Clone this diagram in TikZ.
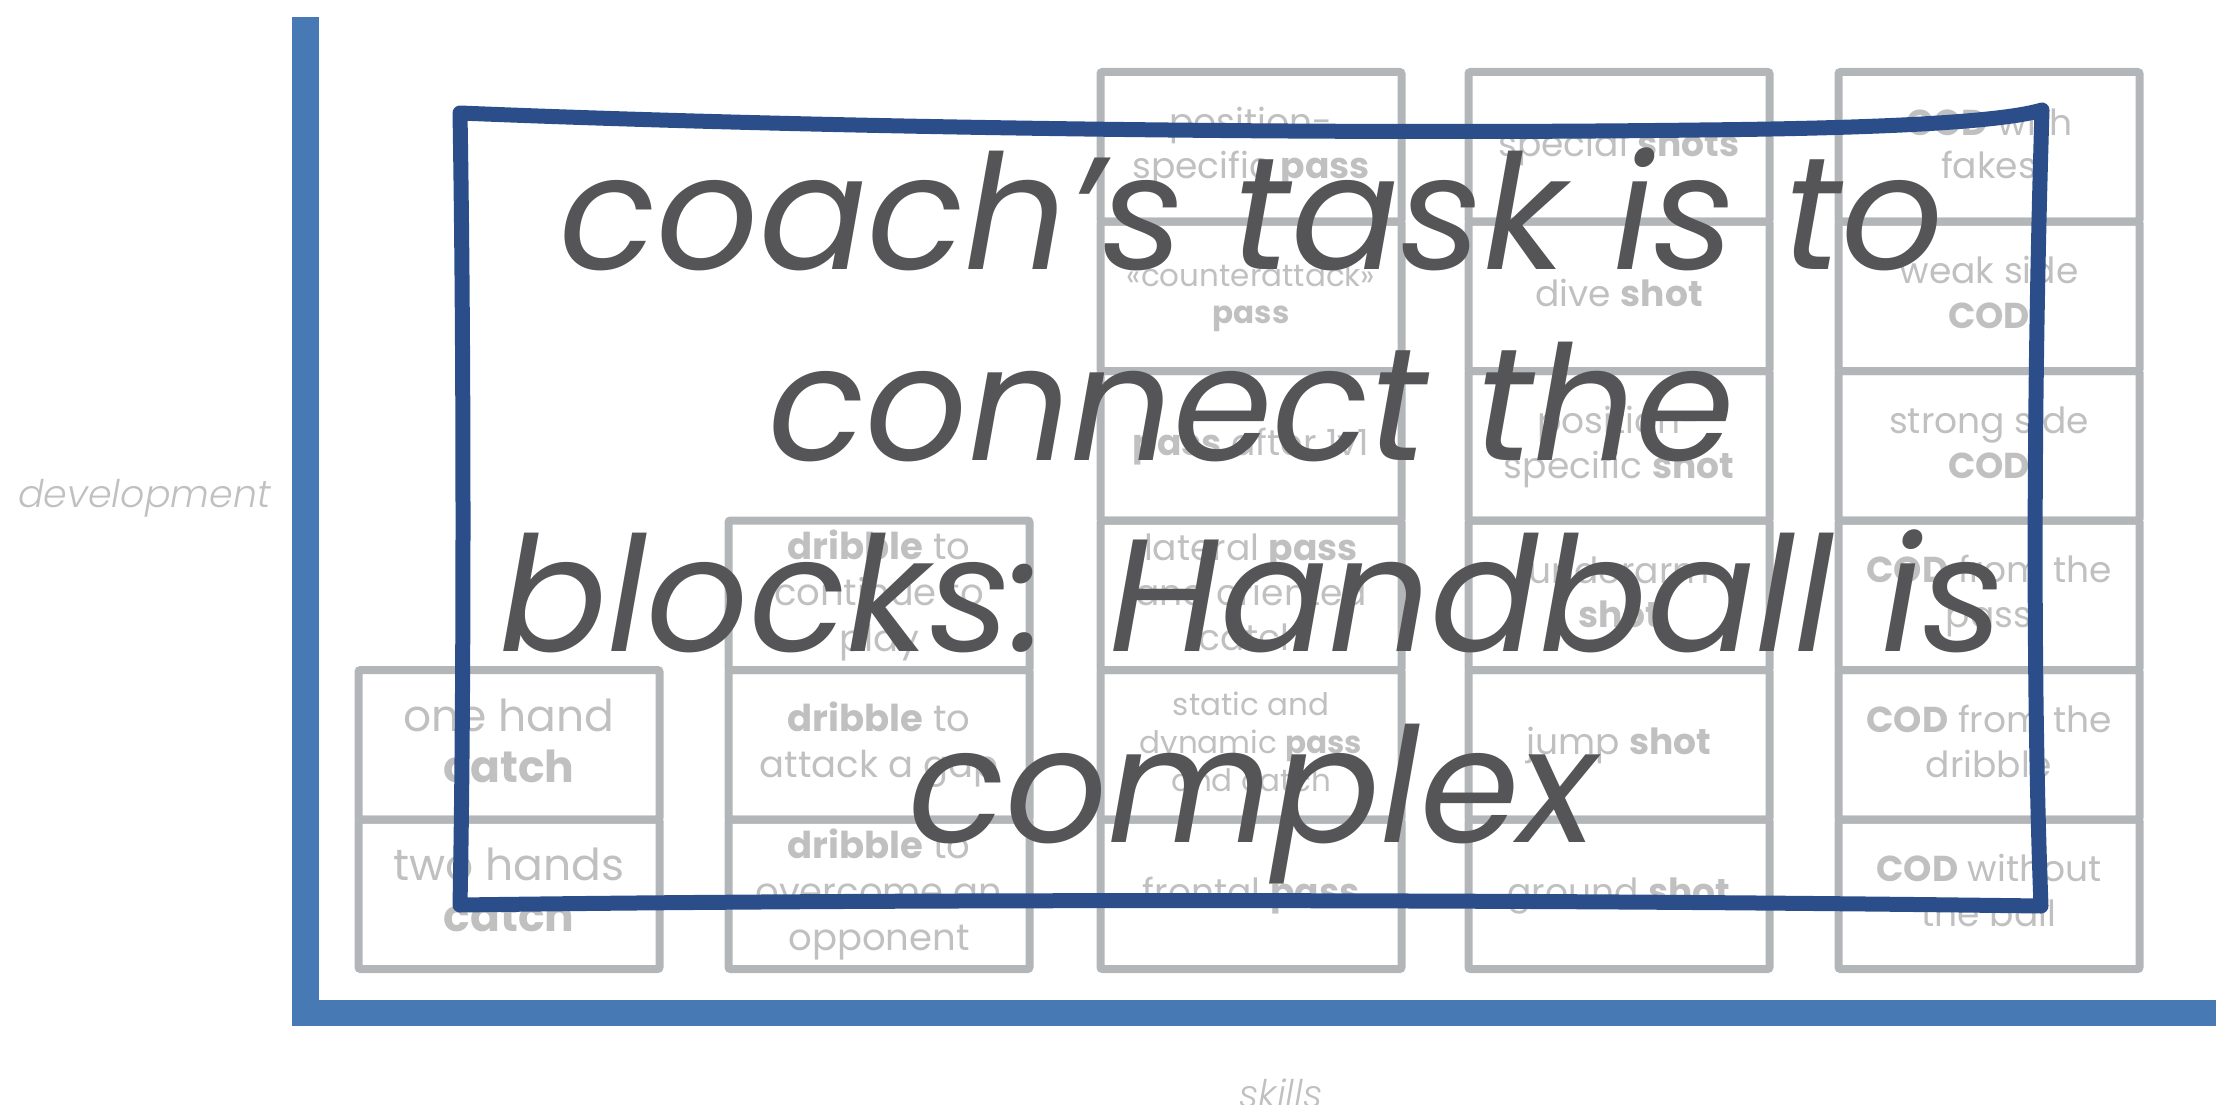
\documentclass[tikz,border=0pt]{standalone}
\usepackage{fontspec}
\setmainfont{Poppins}
\newfontface\devfont{Poppins Light Italic}
\definecolor{axisblue}{HTML}{477AB4}
\definecolor{frameblue}{HTML}{2B4E8A}
\definecolor{boxgray}{HTML}{B2B6B9}
\definecolor{txtgray}{HTML}{C0C0C0}
\definecolor{maingray}{HTML}{555557}
\newcommand\cs{\rule[\dimexpr 0.274em-0.5\baselineskip\relax]{0pt}{\baselineskip}}
\tikzset{
  cellbox/.style={draw=boxgray, line width=8pt, minimum width=301pt, minimum height=149.5pt,
    inner sep=0pt, rounded corners=2pt, text=txtgray, align=center},
  framestroke/.style={draw=frameblue, line width=15pt, line join=round, line cap=round},
  axislabel/.style={text=txtgray, inner sep=0pt, font=\fontsize{38}{45}\devfont},
}
\newcommand\cell[5]{\node[cellbox, font={\fontsize{#3}{#4}\selectfont}] (#1) at #2 {#5};}
\begin{document}
\begin{tikzpicture}[x=1pt, y=-1pt]
\useasboundingbox (0,0) rectangle (2216,1105);
% catch column
\cell{ca1}{(509,894.25)}{44}{51}{\cs two hands\\\cs\textbf{catch}}
\cell{ca2}{(509,744.75)}{44}{51}{\cs one hand\\\cs\textbf{catch}}
% dribble column
\cell{dr1}{(879,894.25)}{37}{46}{\cs\textbf{dribble} to\\\cs overcome an\\\cs opponent}
\cell{dr2}{(879,744.75)}{37}{46}{\cs\textbf{dribble} to\\\cs attack a gap}
\cell{dr3}{(879,595.25)}{37}{46}{\cs\textbf{dribble} to\\\cs continue to\\\cs play}
% pass column
\cell{pa1}{(1251,894.25)}{36}{44}{\cs frontal \textbf{pass}}
\cell{pa2}{(1251,744.75)}{31}{38}{\cs static and\\\cs dynamic \textbf{pass}\\\cs and catch}
\cell{pa3}{(1251,595.25)}{36}{45}{\cs lateral \textbf{pass}\\\cs and oriented\\\cs catch}
\cell{pa4}{(1251,445.75)}{36}{44}{\cs\textbf{pass} after 1v1}
\cell{pa5}{(1251,296.25)}{31}{37}{\cs «counterattack»\\\cs\textbf{pass}}
\cell{pa6}{(1251,146.75)}{36}{44}{\cs position-\\\cs specific \textbf{pass}}
% shot column
\cell{sh1}{(1619,894.25)}{36}{44}{\cs ground \textbf{shot}}
\cell{sh2}{(1619,744.75)}{36}{44}{\cs jump \textbf{shot}}
\cell{sh3}{(1619,595.25)}{36}{44}{\cs underarm\\\cs\textbf{shot}}
\cell{sh4}{(1619,445.75)}{36}{45}{\cs position-\\\cs specific \textbf{shot}}
\cell{sh5}{(1619,296.25)}{36}{44}{\cs dive \textbf{shot}}
\cell{sh6}{(1619,146.75)}{36}{44}{\cs special \textbf{shots}}
% COD column
\cell{co1}{(1989,894.25)}{36}{45}{\cs\textbf{COD} without\\\cs the ball}
\cell{co2}{(1989,744.75)}{36}{45}{\cs\textbf{COD} from the\\\cs dribble}
\cell{co3}{(1989,595.25)}{36}{45}{\cs\textbf{COD} from the\\\cs pass}
\cell{co4}{(1989,445.75)}{36}{45}{\cs strong side\\\cs\textbf{COD}}
\cell{co5}{(1989,296.25)}{36}{45}{\cs weak side\\\cs\textbf{COD}}
\cell{co6}{(1989,146.75)}{36}{43}{\cs\textbf{COD} with\\\cs fakes}
% axes
\fill[axisblue] (292,17) rectangle (319,1026);
\fill[axisblue] (292,1000) rectangle (2216,1026);
\node[axislabel, anchor=base east] (dev) at (271,507) {development};
\node[axislabel, anchor=base] (skills) at (1281,1107) {skills};
% hand-drawn frame
\coordinate (tl) at (460,113);
\coordinate (tr) at (2042,110);
\coordinate (br) at (2041,906);
\coordinate (bl) at (460,905);
\draw[framestroke] (tl) .. controls (800,127) and (1300,135) .. (1700,130)
  .. controls (1900,128) and (2005,121) .. (tr)
  .. controls (2033,400) and (2033,700) .. (br)
  .. controls (1500,899) and (900,899) .. (bl)
  .. controls (464,700) and (464,350) .. cycle;
% main text
\node[text=maingray, align=center, inner sep=0pt,
  font={\fontsize{160}{191}\selectfont\itshape}] (msg) at (1252,512)
  {\cs coach’s task is to\\\cs connect the\\\cs blocks: Handball is\\\cs complex};
\end{tikzpicture}
\end{document}
